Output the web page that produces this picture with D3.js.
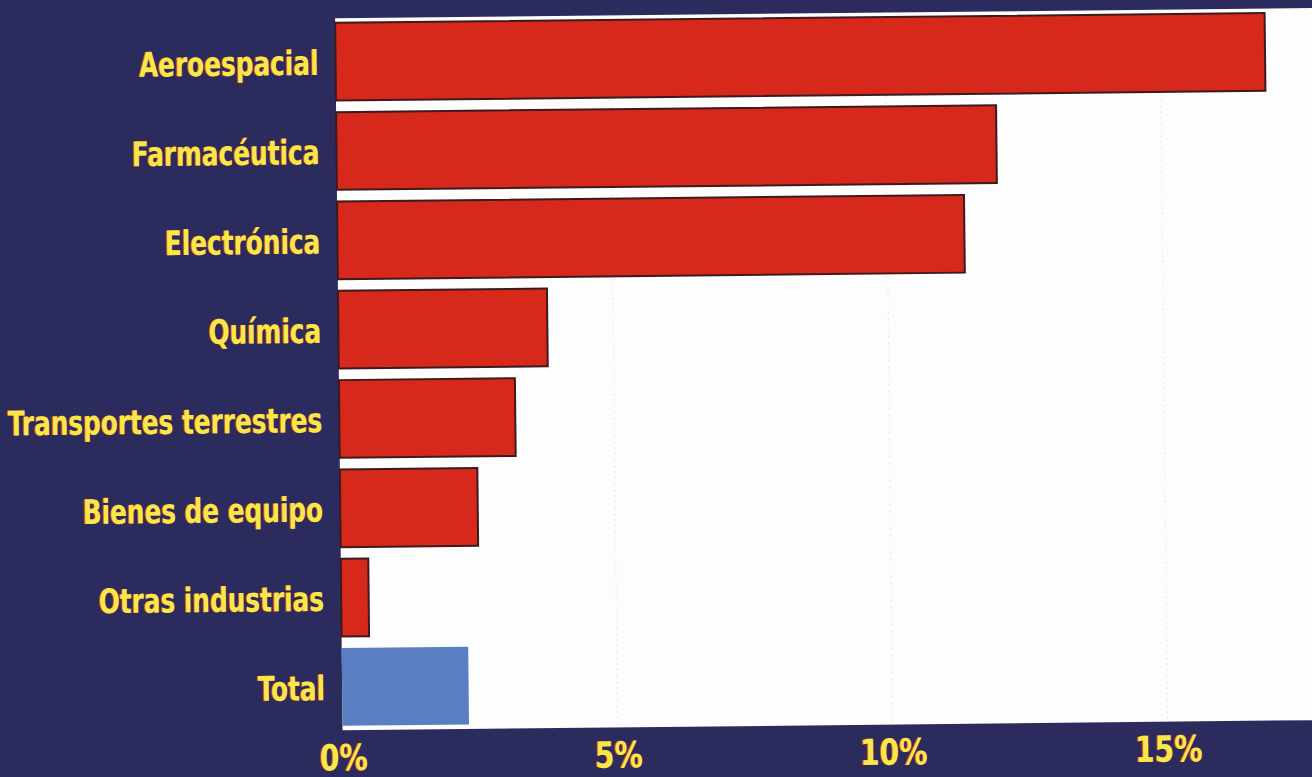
<!DOCTYPE html>
<html>
<head>
<meta charset="utf-8">
<script src="https://cdn.jsdelivr.net/npm/d3@7"></script>
<style>
  html, body { margin: 0; padding: 0; background: #2c2b5e; overflow: hidden; }
  svg { display: block; }
  text { font-family: "DejaVu Sans Condensed", "DejaVu Sans", sans-serif; font-stretch: condensed; font-weight: bold; }
</style>
</head>
<body>
<svg id="chart" width="1312" height="777"></svg>
<script>
// Sectors, in display order (top to bottom)
const categories = ["Aeroespacial", "Farmacéutica", "Electrónica", "Química",
                    "Transportes terrestres", "Bienes de equipo", "Otras industrias", "Total"];
// Share (%) for each sector
const values = [16.9, 12.0, 11.4, 3.8, 3.2, 2.5, 0.5, 2.3];
// Axis ticks
const tickValues = [0, 5, 10, 15];
const tickLabels = ["0%", "5%", "10%", "15%"];

const W = 1312, H = 777;
const svg = d3.select("#chart");

svg.append("rect").attr("width", W).attr("height", H).attr("fill", "#2c2b5e");

// the printed page sits slightly askew
const g = svg.append("g").attr("transform", `rotate(-0.6 ${W / 2} ${H / 2})`);

const plot = { left: 339, top: 15, bottom: 727, right: 1340 };

const x = d3.scaleLinear().domain([0, 18.2]).range([plot.left, plot.left + 18.2 * 55]);
const y = d3.scaleBand().domain(categories).range([plot.top, plot.bottom])
  .paddingInner(0.13).paddingOuter(0.05);

// white plotting panel
g.append("rect")
  .attr("x", plot.left).attr("y", plot.top)
  .attr("width", plot.right - plot.left).attr("height", plot.bottom - plot.top)
  .attr("fill", "#fdfdfd");

// faint dotted gridlines
g.append("g").selectAll("line").data(tickValues.slice(1)).join("line")
  .attr("x1", d => x(d)).attr("x2", d => x(d))
  .attr("y1", plot.top).attr("y2", plot.bottom)
  .attr("stroke", "#d8d8d8").attr("stroke-width", 1.2)
  .attr("stroke-dasharray", "1 5");

// bars
g.append("g").selectAll("rect").data(categories).join("rect")
  .attr("x", x(0))
  .attr("y", d => y(d))
  .attr("width", (d, i) => x(values[i]) - x(0))
  .attr("height", y.bandwidth())
  .attr("fill", d => d === "Total" ? "#5a7ec2" : "#d6291c")
  .attr("stroke", d => d === "Total" ? "none" : "#3d1a1c")
  .attr("stroke-width", 2);

// condensed yellow label with a faint red misregistration on its left
function label(sel, txt, size, anchor, sx) {
  const t = sel.append("g").attr("transform", `scale(${sx},1)`);
  t.append("text").attr("x", -1.6).attr("text-anchor", anchor)
    .attr("font-size", size).attr("fill", "#d7432f").text(txt);
  t.append("text").attr("x", 0).attr("text-anchor", anchor)
    .attr("font-size", size).attr("fill", "#f6e947").text(txt);
}

// category labels
g.append("g").selectAll("g").data(categories).join("g")
  .attr("transform", d => `translate(322,${y(d) + y.bandwidth() / 2 + 13})`)
  .each(function (d) { label(d3.select(this), d, 34, "end", 0.81); });

// x-axis tick labels
g.append("g").selectAll("g").data(tickValues).join("g")
  .attr("transform", d => `translate(${x(d) + 1},767)`)
  .each(function (d, i) { label(d3.select(this), tickLabels[i], 36, "middle", 0.87); });
</script>
</body>
</html>
